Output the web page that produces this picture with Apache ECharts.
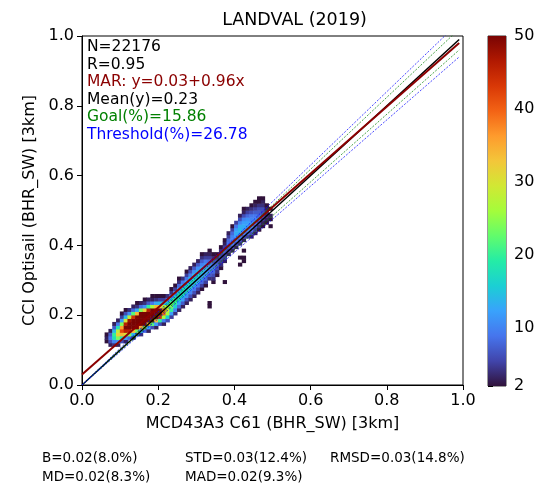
<!DOCTYPE html>
<html><head><meta charset="utf-8">
<script src="https://cdn.jsdelivr.net/npm/echarts@6/dist/echarts.min.js"></script>
<style>html,body{margin:0;padding:0;background:#fff}#c{width:552px;height:483px}</style>
</head><body><div id="c"></div>
<script>
const FONT = 'DejaVu Sans';
const titleText = 'LANDVAL (2019)';
const xName = 'MCD43A3 C61 (BHR_SW) [3km]';
const yName = 'CCI Optisail (BHR_SW) [3km]';
const axisTicks = [0, 0.2, 0.4, 0.6, 0.8, 1.0];
const cbTicks = [2, 10, 20, 30, 40, 50];
const cbRange = [2, 50];
const binSize = 0.01;

// 2D histogram: column x-bin start, first y-bin start, counts going upward (0 = empty bin)
const densX = [0.06,0.07,0.08,0.09,0.10,0.11,0.12,0.13,0.14,0.15,0.16,0.17,0.18,0.19,0.20,0.21,0.22,0.23,0.24,
               0.25,0.26,0.27,0.28,0.29,0.30,0.31,0.32,0.33,0.34,0.35,0.36,0.37,0.38,0.39,0.40,0.41,0.42,0.43,0.44,0.45,0.46,0.47,0.48,0.49];
const densY0 = [0.12,0.11,0.11,0.11,0.12,0.12,0.13,0.13,0.14,0.14,0.15,0.15,0.16,0.16,0.17,0.17,0.18,0.19,0.20,
               0.21,0.22,0.23,0.24,0.25,0.26,0.27,0.28,0.22,0.29,0.31,0.33,0.29,0.37,0.38,0.39,0.34,0.35,0.42,0.42,0.43,0.44,0.45,0.46,0.45];
const densCounts = [
  [2,3,2],
  [3,6,9,7,3],
  [4,10,18,20,14,7,3],
  [3,11,24,32,28,18,9,3],
  [6,18,34,42,36,24,12,5,2],
  [3,12,30,46,52,46,30,14,6,2],
  [8,24,46,60,60,48,28,11,4],
  [4,14,34,56,66,62,44,22,8,3],
  [8,24,50,68,72,60,34,13,4,2],
  [4,14,36,62,76,72,52,24,8,3],
  [8,26,52,72,76,60,32,11,4,2],
  [3,12,36,62,78,70,46,20,7,3],
  [6,22,50,72,72,52,26,9,3,2],
  [3,12,34,60,68,58,34,13,4,2],
  [6,20,44,56,50,32,14,5,2],
  [3,10,26,40,40,28,14,5,2],
  [6,16,26,30,26,16,8,4],
  [5,12,20,24,22,16,9,4,2],
  [4,10,16,20,20,15,10,5,2],
  [3,8,13,17,18,16,12,8,4,2],
  [3,7,12,15,17,17,13,9,4],
  [3,6,11,14,16,16,13,9,5,2],
  [3,6,10,13,15,16,14,10,6,3],
  [3,6,9,12,15,16,14,11,7,3],
  [3,5,9,12,14,15,14,11,7,3],
  [2,5,8,11,13,14,13,10,7,4,2],
  [2,5,8,10,12,13,11,9,5,3],
  [2,2,0,0,0,0,0,0,4,7,9,10,10,8,5,3,2],
  [2,4,6,8,9,8,6,4,2],
  [2,4,6,7,6,4,2],
  [2,4,5,6,5,4,2],
  [2,0,0,0,0,0,3,5,6,7,5,3,2],
  [3,5,7,9,8,5,3],
  [3,6,9,10,10,8,5,2],
  [3,6,9,12,13,12,9,5],
  [2,0,2,0,0,0,4,7,10,13,14,13,10,6,3],
  [2,2,0,2,0,0,3,6,10,12,13,12,10,6,3,2],
  [5,8,11,12,12,11,8,5,3],
  [3,6,9,11,11,10,9,6,4,2],
  [3,5,7,9,10,9,7,5,3,2],
  [2,4,6,8,8,7,6,4,2,2],
  [2,3,5,6,6,6,4,3,2],
  [2,3,4,4,3,2],
  [2,0,2,3,0,2]
];

// reference lines (end points)
const lineX = [0, 0.99];
const oneToOneY = [0, 0.99];
const marY = [0.03, 0.98];
const goalUpY = [0, 1.02];
const goalLoY = [0, 0.96];
const thrUpY = [0, 1.04];
const thrLoY = [0, 0.94];

const annoTexts = ['N=22176', 'R=0.95', 'MAR: y=0.03+0.96x', 'Mean(y)=0.23', 'Goal(%)=15.86', 'Threshold(%)=26.78'];
const annoColors = ['#000000', '#000000', '#8b0000', '#000000', '#008000', '#0000ff'];
const statsRow1 = ['B=0.02(8.0%)', 'STD=0.03(12.4%)', 'RMSD=0.03(14.8%)'];
const statsRow2 = ['MD=0.02(8.3%)', 'MAD=0.02(9.3%)'];

const turbo = ['#30123b','#4145ab','#4675ed','#39a2fc','#1bcfd4','#24eca6','#61fc6c','#a4fc3b','#d1e834','#f3c63a','#fe9b2d','#f36315','#d93806','#b11901','#7a0403'];

const cells = [];
densX.forEach((x, i) => {
  densCounts[i].forEach((c, j) => {
    if (c > 0) cells.push([x, +(densY0[i] + j * binSize).toFixed(3), Math.min(c, cbRange[1])]);
  });
});
const pairs = ys => lineX.map((x, i) => [x, ys[i]]);

const chart = echarts.init(document.getElementById('c'), null, {renderer: 'canvas'});

const lineSeries = (data, color, width, type, opacity) => ({
  type: 'line', xAxisIndex: 0, yAxisIndex: 0, data: data, symbol: 'none', silent: true, clip: true, z: 5,
  lineStyle: {color: color, width: width, type: type, opacity: opacity}
});

const graphics = [];
graphics.push({type: 'text', x: 294.5, y: 20, style: {text: titleText, fill: '#000', fontSize: 17.5, fontFamily: FONT, align: 'center', verticalAlign: 'middle'}});
annoTexts.forEach((t, i) => graphics.push({type: 'text', x: 87, y: 47 + i * 17.5, z: 10,
  style: {text: t, fill: annoColors[i], fontSize: 15.5, fontFamily: FONT, align: 'left', verticalAlign: 'middle'}}));
const statsX = [42, 185, 330];
statsRow1.forEach((t, i) => graphics.push({type: 'text', x: statsX[i], y: 458, style: {text: t, fill: '#000', fontSize: 13.5, fontFamily: FONT, verticalAlign: 'middle'}}));
statsRow2.forEach((t, i) => graphics.push({type: 'text', x: statsX[i], y: 477, style: {text: t, fill: '#000', fontSize: 13.5, fontFamily: FONT, verticalAlign: 'middle'}}));

const axisCommon = {
  type: 'value', min: 0, max: 1, interval: 0.2,
  axisLine: {show: true, onZero: false, lineStyle: {color: '#000', width: 1}},
  axisTick: {show: true, inside: false, length: 5, lineStyle: {color: '#000', width: 1}},
  axisLabel: {fontSize: 16, color: '#000', fontFamily: FONT, formatter: v => v.toFixed(1)},
  splitLine: {show: false},
  nameLocation: 'middle',
  nameTextStyle: {fontSize: 16, color: '#000', fontFamily: FONT}
};

const option = {
  animation: false,
  backgroundColor: '#fff',
  textStyle: {fontFamily: FONT},
  grid: [
    {left: 82, top: 36, width: 381, height: 349, show: true, borderColor: '#000', borderWidth: 1, backgroundColor: 'transparent'},
    {left: 488, top: 36, width: 18, height: 350, show: true, borderColor: '#000', borderWidth: 0.8, backgroundColor: 'transparent'}
  ],
  xAxis: [
    Object.assign({}, axisCommon, {gridIndex: 0, name: xName, nameGap: 31, axisLabel: Object.assign({}, axisCommon.axisLabel, {margin: 8})}),
    {type: 'value', gridIndex: 1, min: 0, max: 1, show: false}
  ],
  yAxis: [
    Object.assign({}, axisCommon, {gridIndex: 0, name: yName, nameGap: 44, axisLabel: Object.assign({}, axisCommon.axisLabel, {margin: 8})}),
    {type: 'value', gridIndex: 1, min: cbRange[0], max: cbRange[1], position: 'right',
     axisLine: {show: false},
     axisTick: {show: true, length: 5, customValues: cbTicks, lineStyle: {color: '#000'}},
     axisLabel: {customValues: cbTicks, fontSize: 16, color: '#000', fontFamily: FONT, margin: 8},
     splitLine: {show: false}}
  ],
  visualMap: {
    type: 'continuous', show: false, min: cbRange[0], max: cbRange[1], dimension: 2, seriesIndex: 0,
    inRange: {color: turbo}
  },
  series: [
    {
      type: 'custom', xAxisIndex: 0, yAxisIndex: 0, data: cells, clip: true, z: 2, silent: true,
      encode: {x: 0, y: 1},
      renderItem: function (params, api) {
        const x = api.value(0), y = api.value(1);
        const p0 = api.coord([x, y + binSize]);
        const p1 = api.coord([x + binSize, y]);
        return {type: 'rect', shape: {x: p0[0] - 0.25, y: p0[1] - 0.25, width: p1[0] - p0[0] + 0.5, height: p1[1] - p0[1] + 0.5},
                style: {fill: api.visual('color')}};
      }
    },
    {
      type: 'custom', xAxisIndex: 1, yAxisIndex: 1, data: [[0, cbRange[0]]], silent: true, clip: false,
      renderItem: function (params, api) {
        const top = api.coord([0, cbRange[1]]);
        const bot = api.coord([1, cbRange[0]]);
        const stops = turbo.map((c, i) => ({offset: 1 - i / (turbo.length - 1), color: c})).reverse();
        return {type: 'rect', shape: {x: top[0], y: top[1], width: bot[0] - top[0], height: bot[1] - top[1]},
                style: {fill: new echarts.graphic.LinearGradient(0, 0, 0, 1, stops)}};
      }
    },
    lineSeries(pairs(oneToOneY), '#000000', 1.5, 'solid', 1),
    lineSeries(pairs(marY), '#8b0000', 2, 'solid', 1),
    lineSeries(pairs(goalUpY), '#008000', 0.9, [2, 1.5], 0.8),
    lineSeries(pairs(goalLoY), '#008000', 0.9, [2, 1.5], 0.8),
    lineSeries(pairs(thrUpY), '#0000ff', 0.9, [2, 1.5], 0.8),
    lineSeries(pairs(thrLoY), '#0000ff', 0.9, [2, 1.5], 0.8)
  ],
  graphic: graphics
};
chart.setOption(option);
</script>
</body></html>
